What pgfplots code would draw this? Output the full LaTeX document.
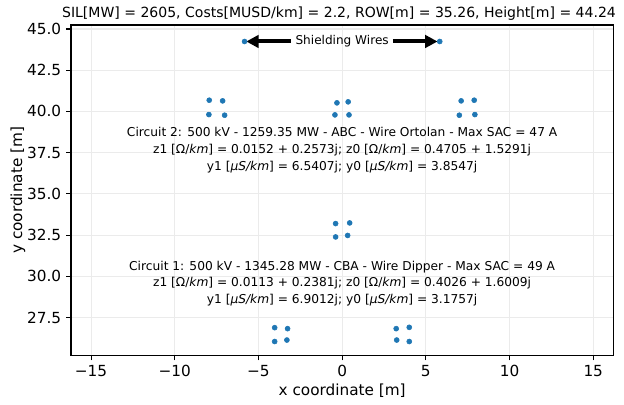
\documentclass[border=0pt]{standalone}
\usepackage{fontspec}
\setmainfont{DejaVu Sans}
\usepackage{pgfplots}
\pgfplotsset{compat=1.18}
\usetikzlibrary{arrows.meta}
\definecolor{C0}{HTML}{1F77B4}
\begin{document}
\begin{tikzpicture}[x=1pt,y=1pt]
\begin{axis}[
  at={(0,0)}, anchor=south west,
  width=390.5pt, height=238pt, scale only axis,
  xmin=-16.2, xmax=16.2, ymin=25.2, ymax=45.24,
  xtick={-15,-10,-5,0,5,10,15},
  xticklabels={−15,−10,−5,0,5,10,15},
  ytick={27.5,30,32.5,35,37.5,40,42.5,45},
  yticklabels={27.5,30.0,32.5,35.0,37.5,40.0,42.5,45.0},
  tick pos=left, tick align=outside,
  major tick length=3.5pt,
  tick style={black, line width=0.8pt},
  axis line style={line width=0.8pt},
  grid=major, grid style={color=black!8, line width=0.8pt},
  ticklabel style={font=\fontsize{11}{13}\selectfont},
  label style={font=\fontsize{11}{13}\selectfont},
  xlabel={x coordinate [m]},
  xlabel style={at={(rel axis cs:0.5,0)}, anchor=center, yshift=-25.6pt},
  clip=false,
]
\addplot[only marks, mark=*, mark size=1.8pt, color=C0, mark options={draw=C0, fill=C0}] coordinates {
  (-5.83,44.24) (5.83,44.24)
  (-7.94,40.68) (-7.14,40.64) (-7.96,39.81) (-7.02,39.77)
  (-0.31,40.52) (0.36,40.58) (-0.43,39.79) (0.41,39.79)
  (7.11,40.64) (7.89,40.68) (7.00,39.77) (7.93,39.81)
  (-0.39,33.20) (0.45,33.24) (-0.39,32.39) (0.33,32.48)
  (-4.03,26.89) (-3.26,26.83) (-4.03,26.05) (-3.30,26.14)
  (3.23,26.83) (4.01,26.91) (3.26,26.14) (4.01,26.05)
};
\node[font=\fontsize{8.7}{10}\selectfont, inner sep=0pt] at (axis cs:0,44.24) {Shielding Wires};
\draw[line width=2.9pt, -{Triangle[length=9pt,width=9pt]}] (axis cs:-3.06,44.24) -- (axis cs:-5.73,44.24);
\draw[line width=2.9pt, -{Triangle[length=9pt,width=9pt]}] (axis cs:3.03,44.24) -- (axis cs:5.70,44.24);
\node[font=\fontsize{8.8}{12}\selectfont, align=center] at (axis cs:0,37.65) {Circuit 2: 500 kV - 1259.35 MW - ABC - Wire Ortolan - Max SAC = 47 A\\
z1 [Ω/\textit{km}] = 0.0152 + 0.2573j; z0 [Ω/\textit{km}] = 0.4705 + 1.5291j\\
y1 [\textit{μS/km}] = 6.5407j; y0 [\textit{μS/km}] = 3.8547j};
\node[font=\fontsize{8.8}{12}\selectfont, align=center] at (axis cs:0,29.58) {Circuit 1: 500 kV - 1345.28 MW - CBA - Wire Dipper - Max SAC = 49 A\\
z1 [Ω/\textit{km}] = 0.0113 + 0.2381j; z0 [Ω/\textit{km}] = 0.4026 + 1.6009j\\
y1 [\textit{μS/km}] = 6.9012j; y0 [\textit{μS/km}] = 3.1757j};
\end{axis}
\node[font=\fontsize{11}{13}\selectfont, rotate=90] at (-38.2,119) {y coordinate [m]};
\node[font=\fontsize{10.1}{12}\selectfont, anchor=base] at (193,243.5) {SIL[MW] = 2605, Costs[MUSD/km] = 2.2, ROW[m] = 35.26, Height[m] = 44.24};
\pgfresetboundingbox
\useasboundingbox (-51.1,-35.6) rectangle (398.2,256);
\end{tikzpicture}
\end{document}
